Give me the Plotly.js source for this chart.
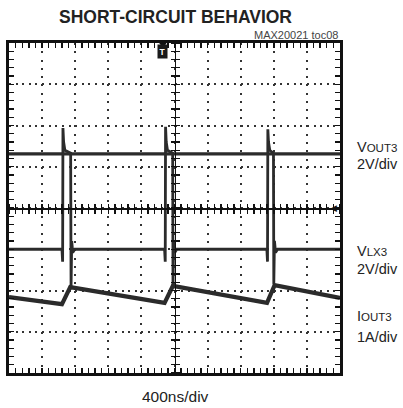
<!DOCTYPE html>
<html>
<head>
<meta charset="utf-8">
<script src="https://cdn.plot.ly/plotly-3.0.1.min.js"></script>
<style>html,body{margin:0;padding:0;background:#fff;}#chart{width:403px;height:408px;}</style>
</head>
<body>
<div id="chart"></div>
<script>
// Time axis in ns (400 ns/div, 10 divisions); vertical values in screen divisions (0..8)
const vout3Time = [0, 640, 660, 700, 760, 1880, 1900, 1940, 1990, 3120, 3140, 3170, 3210, 4000];
const vout3Div  = [5.31, 5.31, 5.33, 5.31, 5.31, 5.31, 5.33, 5.31, 5.31, 5.31, 5.33, 5.31, 5.31, 5.31];

const vlx3Time = [0, 640, 648, 652, 660, 675, 745, 750, 758, 770, 795,
                  1880, 1888, 1892, 1900, 1915, 1978, 1982, 1990, 2003, 2028,
                  3116, 3124, 3128, 3136, 3151, 3196, 3200, 3208, 3221, 3246, 4000];
const vlx3Div  = [3.0, 3.0, 2.70, 5.94, 5.60, 5.40, 5.33, 2.08, 3.20, 2.92, 3.0,
                  3.0, 2.70, 5.97, 5.60, 5.40, 5.33, 2.10, 3.20, 2.92, 3.0,
                  3.0, 2.70, 5.91, 5.60, 5.40, 5.33, 2.15, 3.20, 2.92, 3.0, 3.0];

const iout3Time = [0, 640, 740, 1880, 1980, 3118, 3210, 4000];
const iout3Div  = [1.84, 1.67, 2.08, 1.70, 2.11, 1.70, 2.13, 1.82];

const triggerTime = 1860;
const traceColor = '#2b2b2b';

const traces = [
  {x: iout3Time, y: iout3Div, mode: 'lines', line: {color: traceColor, width: 4.2}, hoverinfo: 'skip'},
  {x: vlx3Time, y: vlx3Div, mode: 'lines', line: {color: traceColor, width: 2.8}, hoverinfo: 'skip'},
  {x: vout3Time, y: vout3Div, mode: 'lines', line: {color: traceColor, width: 3.3}, hoverinfo: 'skip'},
  // empty traces so the graticule axes get drawn
  {x: [], y: [], xaxis: 'x2', yaxis: 'y'},
  {x: [], y: [], xaxis: 'x3', yaxis: 'y'},
  {x: [], y: [], xaxis: 'x4', yaxis: 'y'},
  {x: [], y: [], xaxis: 'x', yaxis: 'y2'},
  {x: [], y: [], xaxis: 'x', yaxis: 'y3'},
  {x: [], y: [], xaxis: 'x', yaxis: 'y4'}
];

const edge = '#111';
const baseX = {range: [0, 4000], showticklabels: false, zeroline: false, fixedrange: true, showgrid: false};
const baseY = {range: [0, 8], showticklabels: false, zeroline: false, fixedrange: true, showgrid: false};

const tickStyle = {ticklen: 5, tickwidth: 1.4, tickcolor: edge};

const centreX = (side) => Object.assign({}, baseX, tickStyle, {
  overlaying: 'x', anchor: 'free', position: 0.5, side: side,
  showline: true, linecolor: edge, linewidth: 1.8,
  ticks: 'outside', ticklen: 4, tick0: 0, dtick: 80
});
const centreY = (side) => Object.assign({}, baseY, tickStyle, {
  overlaying: 'y', anchor: 'free', position: 0.5, side: side,
  showline: true, linecolor: edge, linewidth: 1.8,
  ticks: 'outside', ticklen: 4, tick0: 0, dtick: 0.2
});

const family = '"Liberation Sans", Arial, Helvetica, sans-serif';
const labelFont = {family: family, size: 14.5, color: '#222'};
const px2py = (py) => (373 - py) / 330;
const px2px = (px) => (px - 9) / 331;

const ann = [];
const addLabel = (text, pyc) => ann.push({xref: 'paper', yref: 'paper', x: px2px(355), y: px2py(pyc),
  xanchor: 'left', yanchor: 'middle', showarrow: false, text: text, font: labelFont, align: 'left'});
addLabel('V<span style="font-size:11.5px">OUT3</span>', 147);
addLabel('2V/div', 164);
addLabel('V<span style="font-size:11.5px">LX3</span>', 251);
addLabel('2V/div', 269);
addLabel('I<span style="font-size:11.5px">OUT3</span>', 316);
addLabel('1A/div', 337);

ann.push({xref: 'paper', yref: 'paper', x: px2px(175), y: px2py(17), xanchor: 'center', yanchor: 'middle',
  showarrow: false, text: '<b>SHORT-CIRCUIT BEHAVIOR</b>',
  font: {family: family, size: 17.5, color: '#222'}});
ann.push({xref: 'paper', yref: 'paper', x: 1, y: px2py(35), xanchor: 'right', yanchor: 'middle',
  showarrow: false, text: 'MAX20021 toc08',
  font: {family: family, size: 11, color: '#444'}});
ann.push({xref: 'paper', yref: 'paper', x: px2px(175), y: px2py(396), xanchor: 'center', yanchor: 'middle',
  showarrow: false, text: '400ns/div', font: Object.assign({}, labelFont, {size: 15.5})});
// trigger marker
ann.push({xref: 'x', yref: 'paper', x: triggerTime, y: px2py(52), xanchor: 'center', yanchor: 'middle',
  showarrow: false, text: '<b>T</b>', bgcolor: '#1a1a1a', borderpad: 1.5,
  font: {family: family, size: 8.5, color: '#fff'}});
// ground reference marker on right edge
ann.push({xref: 'paper', yref: 'y', x: 1, y: 4, xanchor: 'right', yanchor: 'middle', xshift: -1,
  showarrow: false, text: '◀', font: {family: 'DejaVu Sans, sans-serif', size: 9, color: '#111'}});

const shapes = [
  // small trigger pointer on the top edge
  {type: 'path', xref: 'x', yref: 'paper',
   path: `M ${triggerTime - 45},1 L ${triggerTime + 45},1 L ${triggerTime},${px2py(48)} Z`,
   fillcolor: '#111', line: {width: 0}}
];

const layout = {
  width: 403, height: 408,
  margin: {l: 9, r: 63, t: 43, b: 35, pad: 0},
  paper_bgcolor: '#fff', plot_bgcolor: '#fff',
  showlegend: false,
  xaxis: Object.assign({}, baseX, tickStyle, {
    showgrid: true, gridcolor: '#333', gridwidth: 2, griddash: '2px,6.25px',
    tick0: 0, dtick: 400, ticks: 'inside',
    minor: {tick0: 0, dtick: 80, ticks: 'inside', ticklen: 5, tickwidth: 1.4, tickcolor: edge, showgrid: false},
    showline: true, linecolor: edge, linewidth: 3
  }),
  yaxis: Object.assign({}, baseY, tickStyle, {
    showgrid: true, gridcolor: '#333', gridwidth: 2, griddash: '2px,4.62px',
    tick0: 0, dtick: 1, ticks: 'inside',
    minor: {tick0: 0, dtick: 0.2, ticks: 'inside', ticklen: 5, tickwidth: 1.4, tickcolor: edge, showgrid: false},
    showline: true, linecolor: edge, linewidth: 3
  }),
  // top and right edges of the graticule
  xaxis4: Object.assign({}, baseX, tickStyle, {overlaying: 'x', anchor: 'y', side: 'top',
    tick0: 0, dtick: 80, ticks: 'inside', showline: true, linecolor: edge, linewidth: 3}),
  yaxis4: Object.assign({}, baseY, tickStyle, {overlaying: 'y', anchor: 'x', side: 'right',
    tick0: 0, dtick: 0.2, ticks: 'inside', showline: true, linecolor: edge, linewidth: 3}),
  xaxis2: centreX('bottom'),
  xaxis3: centreX('top'),
  yaxis2: centreY('left'),
  yaxis3: centreY('right'),
  annotations: ann,
  shapes: shapes
};

Plotly.newPlot('chart', traces, layout, {staticPlot: true, displayModeBar: false});
</script>
</body>
</html>
